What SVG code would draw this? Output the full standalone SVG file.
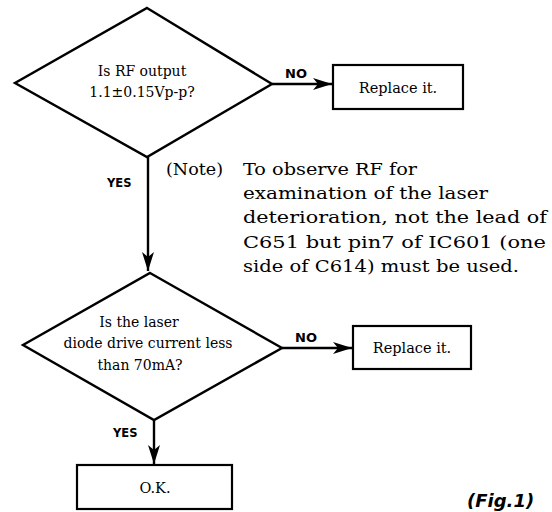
<svg xmlns="http://www.w3.org/2000/svg" width="552" height="512" viewBox="0 0 552 512">
<style>
.shape{fill:#fff;stroke:#000;stroke-width:2.4;stroke-linejoin:miter}
.box{fill:#fff;stroke:#000;stroke-width:2.2}
.line{fill:none;stroke:#000;stroke-width:2.4}
.t{font-family:"DejaVu Serif","Liberation Serif",serif;fill:#000;text-anchor:middle}
.lbl{font-family:"DejaVu Sans","Liberation Sans",sans-serif;font-weight:bold;fill:#000}
.note{font-family:"DejaVu Serif","Liberation Serif",serif;fill:#000;font-size:17px}
</style>
<defs>
<marker id="ah" markerWidth="20" markerHeight="12" refX="19" refY="6" orient="auto" markerUnits="userSpaceOnUse">
<path d="M0,0 L19,6 L0,12 L5,6 Z" fill="#000"/>
</marker>
</defs>
<rect width="552" height="512" fill="#fff"/>
<g id="connectors">
<path class="line" d="M272,84 H332" marker-end="url(#ah)"/>
<path class="line" d="M148,157 V271" marker-end="url(#ah)"/>
<path class="line" d="M282,348 H352" marker-end="url(#ah)"/>
<path class="line" d="M154,420 V464" marker-end="url(#ah)"/>
<text class="lbl" x="285" y="78" font-size="13">NO</text>
<text class="lbl" x="107" y="187" font-size="11.5">YES</text>
<text class="lbl" x="295" y="342" font-size="13">NO</text>
<text class="lbl" x="113" y="437" font-size="11.5">YES</text>
</g>
<g id="d1">
<polygon class="shape" points="147,8 272,84 147,157 15,83"/>
<text class="t" x="142" y="76" font-size="14">Is RF output</text>
<text class="t" x="142" y="97" font-size="14">1.1±0.15Vp-p?</text>
</g>
<g id="r1">
<rect class="box" x="333" y="65" width="130" height="44"/>
<text class="t" x="398" y="93" font-size="14.5">Replace it.</text>
</g>
<g id="d2">
<polygon class="shape" points="150,273 282,348 154,420 23,345"/>
<text class="t" x="139" y="327" font-size="14">Is the laser</text>
<text class="t" x="148" y="348" font-size="14">diode drive current less</text>
<text class="t" x="140" y="370" font-size="14">than 70mA?</text>
</g>
<g id="r2">
<rect class="box" x="353" y="326" width="118" height="43"/>
<text class="t" x="412" y="353" font-size="14.5">Replace it.</text>
</g>
<g id="ok">
<rect class="box" x="77" y="465" width="155" height="44"/>
<text class="t" x="155" y="493" font-size="14.5">O.K.</text>
</g>
<g id="note">
<text class="note" x="166" y="175" textLength="57" lengthAdjust="spacingAndGlyphs">(Note)</text>
<text class="note" x="243" y="175" textLength="174" lengthAdjust="spacingAndGlyphs">To observe RF for</text>
<text class="note" x="243" y="199" textLength="245" lengthAdjust="spacingAndGlyphs">examination of the laser</text>
<text class="note" x="243" y="223" textLength="304" lengthAdjust="spacingAndGlyphs">deterioration, not the lead of</text>
<text class="note" x="243" y="248" textLength="303" lengthAdjust="spacingAndGlyphs">C651 but pin7 of IC601 (one</text>
<text class="note" x="243" y="272" textLength="276" lengthAdjust="spacingAndGlyphs">side of C614) must be used.</text>
</g>
<text x="467" y="507" font-family="DejaVu Sans, Liberation Sans, sans-serif" font-style="italic" font-weight="bold" font-size="18" fill="#000">(Fig.1)</text>
</svg>
